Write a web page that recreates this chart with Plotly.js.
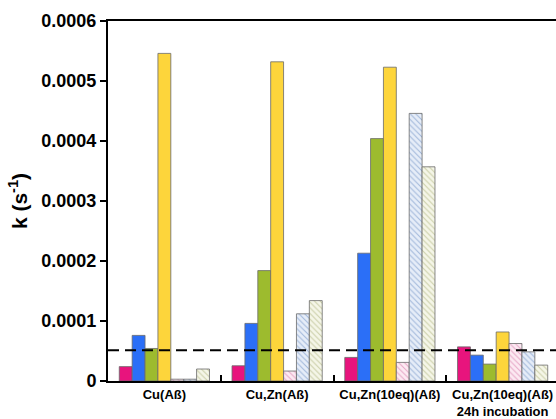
<!DOCTYPE html>
<html>
<head>
<meta charset="utf-8">
<script src="https://cdn.plot.ly/plotly-3.0.1.min.js"></script>
<style>
html,body{margin:0;padding:0;overflow:hidden;background:#fff;}
#chart{width:560px;height:419px;}
</style>
</head>
<body>
<div id="chart"></div>
<script>
const categories = ['Cu(Aß)', 'Cu,Zn(Aß)', 'Cu,Zn(10eq)(Aß)', 'Cu,Zn(10eq)(Aß)<br>24h incubation'];
const seriesMagenta = [0.000024, 0.0000254, 0.0000393, 0.0000569];
const seriesBlue = [0.000076, 0.000096, 0.000213, 0.0000431];
const seriesGreen = [0.0000542, 0.000184, 0.000404, 0.0000282];
const seriesYellow = [0.000546, 0.000532, 0.000523, 0.0000817];
const seriesPinkHatched = [0.000003, 0.0000166, 0.000031, 0.0000625];
const seriesBlueHatched = [0.000003, 0.000112, 0.000446, 0.0000486];
const seriesGreenHatched = [0.00002, 0.000134, 0.000357, 0.0000265];
const thresholdValue = 0.0000514;
const yTickVals = [0, 0.0001, 0.0002, 0.0003, 0.0004, 0.0005, 0.0006];
const yTickText = ['0', '0.0001', '0.0002', '0.0003', '0.0004', '0.0005', '0.0006'];

const edge = {color: '#6a6a6a', width: 0.8};
function solid(y, color) {
  return {type: 'bar', x: categories, y: y, showlegend: false, hoverinfo: 'y',
    marker: {color: color, line: edge}};
}
function hatched(y, bg, fg) {
  return {type: 'bar', x: categories, y: y, showlegend: false, hoverinfo: 'y',
    marker: {color: bg, line: edge,
      pattern: {shape: '\\', fgcolor: fg, bgcolor: bg, size: 4, solidity: 0.25}}};
}

const data = [
  solid(seriesMagenta, '#E8147D'),
  solid(seriesBlue, '#2B6FF7'),
  solid(seriesGreen, '#9DBB2E'),
  solid(seriesYellow, '#FDD53B'),
  hatched(seriesPinkHatched, '#FCEAF2', '#E6A6C6'),
  hatched(seriesBlueHatched, '#E6EDF8', '#9FB6DA'),
  hatched(seriesGreenHatched, '#F5F6E8', '#C9CDA6')
];

const layout = {
  width: 560, height: 419,
  margin: {l: 108, r: 1, t: 21, b: 38},
  paper_bgcolor: '#fff', plot_bgcolor: '#fff',
  barmode: 'group', bargap: 0.2, bargroupgap: 0,
  font: {family: 'Liberation Sans, Arial, sans-serif', color: '#000'},
  xaxis: {
    type: 'category', range: [-0.5, 3.5],
    showline: true, linecolor: '#000', linewidth: 2, mirror: true,
    ticks: 'inside', ticklen: 6, tickwidth: 2, tickcolor: '#000',
    tickson: 'boundaries', showgrid: false, zeroline: false,
    tickfont: {size: 13, weight: 700, family: 'Liberation Sans, Arial, sans-serif'}
  },
  yaxis: {
    range: [0, 0.0006], showline: true, linecolor: '#000', linewidth: 2, mirror: true,
    ticks: 'outside', ticklen: 6, tickwidth: 1.5, tickcolor: '#000',
    tickvals: yTickVals, ticktext: yTickText, showgrid: false, zeroline: false,
    tickfont: {size: 18, weight: 700, family: 'Liberation Sans, Arial, sans-serif'},
    title: {text: 'k (s<sup>-1</sup>)', standoff: 8,
      font: {size: 21, weight: 700, family: 'Liberation Sans, Arial, sans-serif'}}
  },
  shapes: [{type: 'line', xref: 'paper', yref: 'y', x0: 0, x1: 1,
    y0: thresholdValue, y1: thresholdValue,
    line: {color: '#000', width: 2, dash: '11px,6px'}}]
};

Plotly.newPlot('chart', data, layout, {displayModeBar: false, staticPlot: true});
</script>
</body>
</html>
